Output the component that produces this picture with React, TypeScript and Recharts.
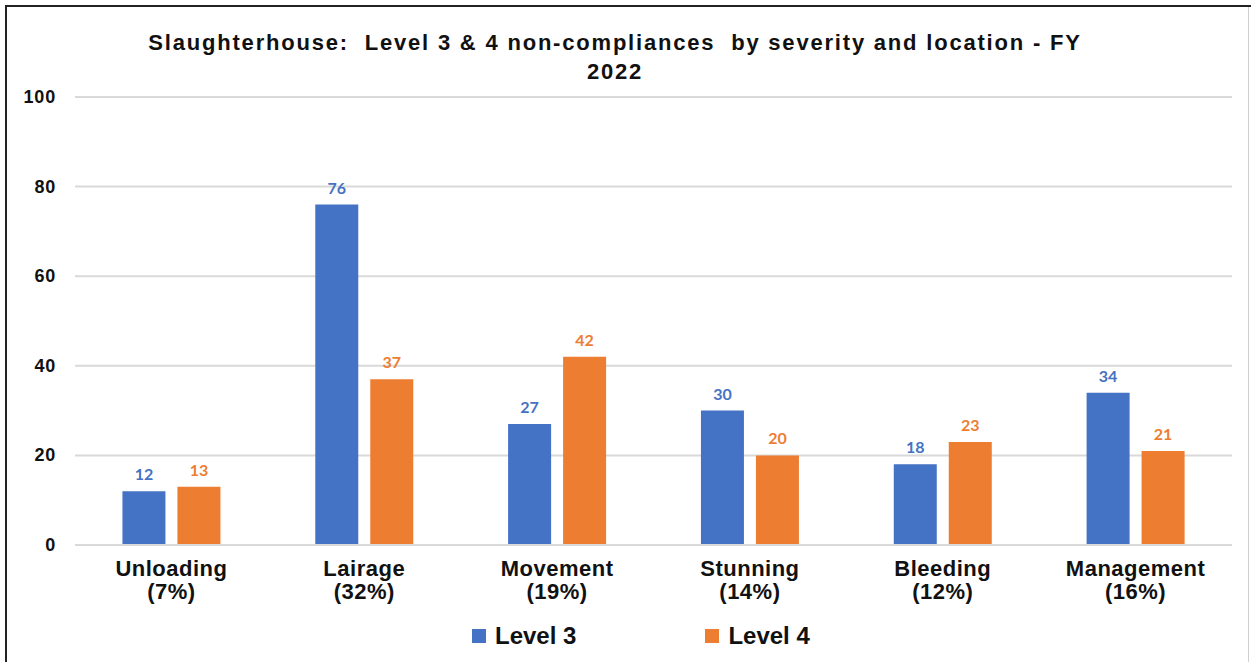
import { BarChart, Bar, XAxis, YAxis, CartesianGrid, LabelList } from "recharts";

const categories = ["Unloading", "Lairage", "Movement", "Stunning", "Bleeding", "Management"];
const shares = ["(7%)", "(32%)", "(19%)", "(14%)", "(12%)", "(16%)"];
const level3 = [12, 76, 27, 30, 18, 34];
const level4 = [13, 37, 42, 20, 23, 21];
const yTicks = [0, 20, 40, 60, 80, 100];

const BLUE = "#4472C4";
const ORANGE = "#ED7D31";
const FONT = "'Liberation Sans', Arial, sans-serif";

const data = categories.map((name, i) => ({
  name,
  share: shares[i],
  level3: level3[i],
  level4: level4[i],
}));

function CategoryTick({ x, y, payload, index }: any) {
  return (
    <text x={x} y={y} textAnchor="middle" fontFamily={FONT} fontWeight={700} fontSize={22} letterSpacing={0.5} fill="#111">
      <tspan x={x} dy={23}>{payload.value}</tspan>
      <tspan x={x} dy={23}>{shares[index]}</tspan>
    </text>
  );
}

function ValueTick({ y, payload }: any) {
  return (
    <text x={56} y={y} dy={6} textAnchor="end" fontFamily={FONT} fontWeight={700} fontSize={18} letterSpacing={0.8} fill="#111">
      {payload.value}
    </text>
  );
}

function LegendItem({ color, label }: { color: string; label: string }) {
  return (
    <div style={{ display: "flex", alignItems: "center" }}>
      <div style={{ width: 14, height: 14, background: color, marginRight: 9 }} />
      <span style={{ fontFamily: FONT, fontWeight: 700, fontSize: 24, color: "#111" }}>{label}</span>
    </div>
  );
}

export default function App() {
  return (
    <div style={{ position: "absolute", left: 0, top: 0, width: 1251, height: 662, background: "#fff" }}>
      <BarChart
        width={1251}
        height={662}
        data={data}
        margin={{ top: 97, right: 19, left: 15, bottom: 57 }}
        barCategoryGap="24.6%"
        barGap={12}
      >
        <CartesianGrid vertical={false} stroke="#d9d9d9" strokeWidth={2} />
        <XAxis
          dataKey="name"
          height={60}
          axisLine={{ stroke: "#d9d9d9", strokeWidth: 2 }}
          tickLine={false}
          tick={<CategoryTick />}
          interval={0}
        />
        <YAxis
          width={60}
          domain={[0, 100]}
          ticks={yTicks}
          axisLine={false}
          tickLine={false}
          tick={<ValueTick />}
        />
        <Bar dataKey="level3" fill={BLUE} isAnimationActive={false}>
          <LabelList dataKey="level3" position="top" offset={11} fill={BLUE} fontFamily="Lato, sans-serif" fontWeight={700} fontSize={16} />
        </Bar>
        <Bar dataKey="level4" fill={ORANGE} isAnimationActive={false}>
          <LabelList dataKey="level4" position="top" offset={11} fill={ORANGE} fontFamily="Lato, sans-serif" fontWeight={700} fontSize={16} />
        </Bar>
      </BarChart>

      <div
        style={{
          position: "absolute",
          left: 0,
          top: 28,
          width: 1230,
          textAlign: "center",
          fontFamily: FONT,
          fontWeight: 700,
          fontSize: 22,
          letterSpacing: 1.8,
          lineHeight: "29px",
          color: "#111",
        }}
      >
        Slaughterhouse:&nbsp; Level 3 &amp; 4 non-compliances&nbsp; by severity and location - FY
        <br />
        2022
      </div>

      <div style={{ position: "absolute", left: 472, top: 622, display: "flex", gap: 129 }}>
        <LegendItem color={BLUE} label="Level 3" />
        <LegendItem color={ORANGE} label="Level 4" />
      </div>

      <div style={{ position: "absolute", left: 5, top: 5, width: 1246, height: 2, background: "#222" }} />
      <div style={{ position: "absolute", left: 5, top: 5, width: 2, height: 657, background: "#222" }} />
      <div style={{ position: "absolute", left: 1248, top: 7, width: 1, height: 655, background: "#cfcfcf" }} />
    </div>
  );
}
